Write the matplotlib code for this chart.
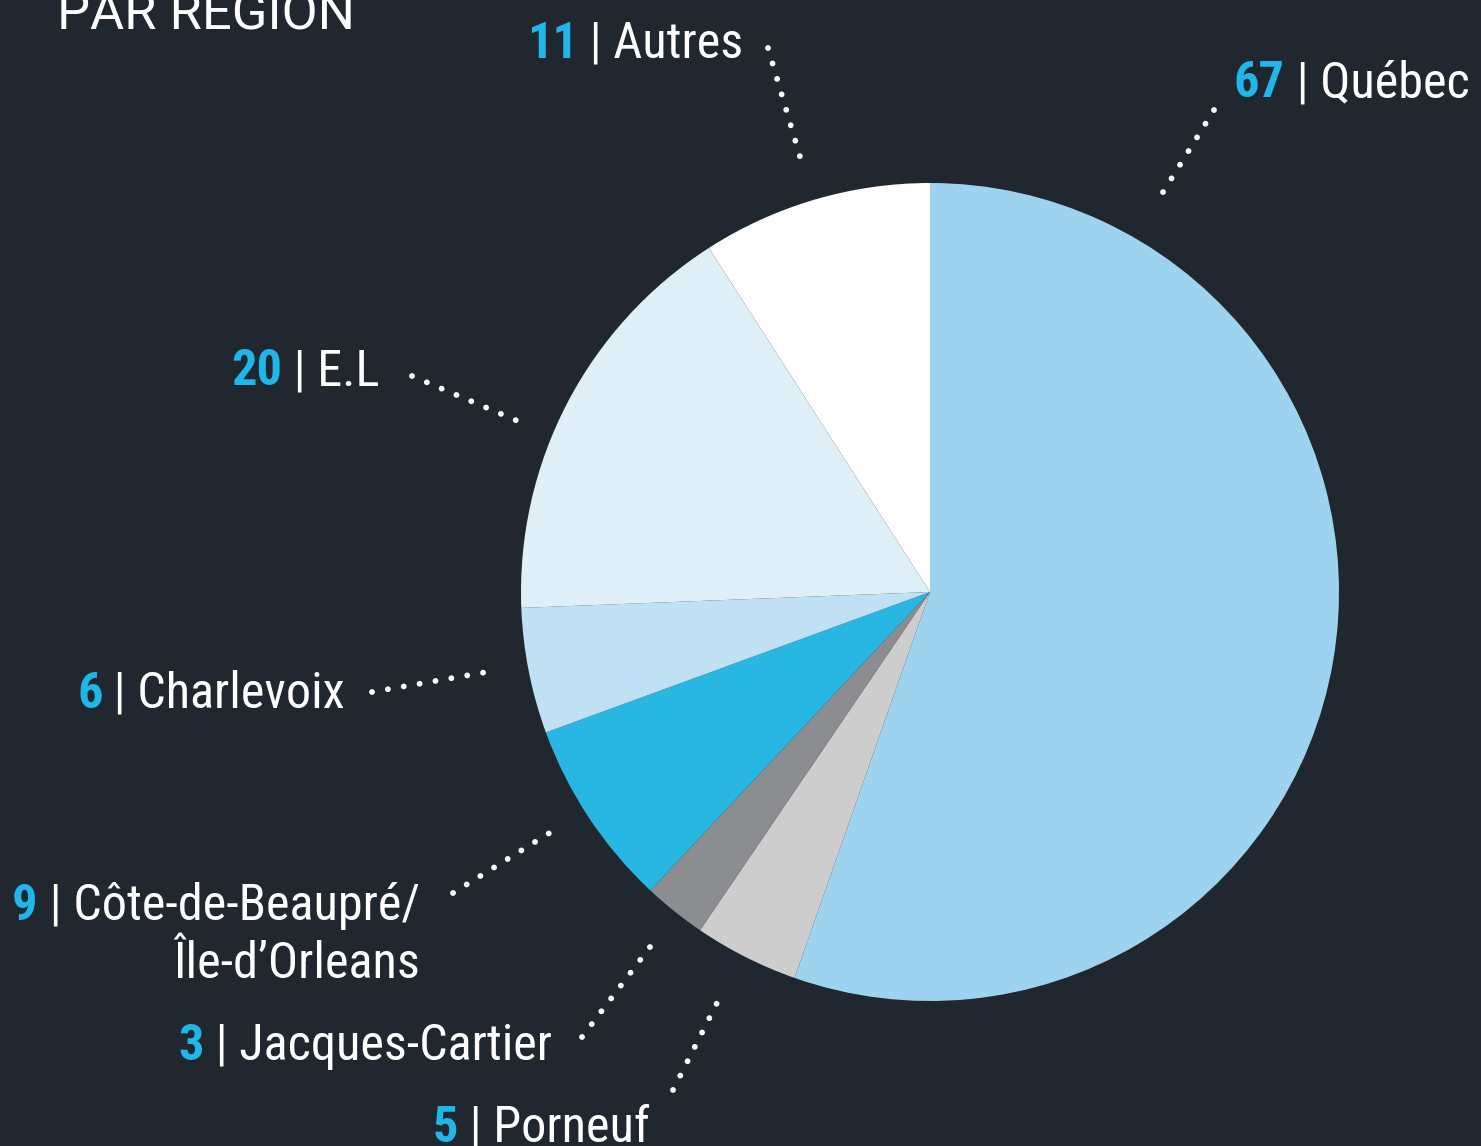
import matplotlib
matplotlib.use("Agg")
import matplotlib.pyplot as plt
from matplotlib import font_manager
from matplotlib.font_manager import FontProperties

# data (clockwise from 12 o'clock)
regions = ["Québec", "Porneuf", "Jacques-Cartier", "Côte-de-Beaupré/\nÎle-d’Orleans",
           "Charlevoix", "E.L", "Autres"]
counts = [67, 5, 3, 9, 6, 20, 11]
colors = ["#9dd3ee", "#cdcdce", "#8b8d91", "#28b7e3", "#c0e1f4", "#dfeff8", "#fdfdfd"]

BG = "#20272f"
BLUE = "#1fb6ea"
W, H = 1481, 1146

# label layout in pixel coords: (text left, baseline), leader outer end, leader inner end
label_pos = [(1234, 97), (433, 1142), (178, 1060), (12, 920), (77, 708), (231, 385), (527, 58)]
leaders = [((1214, 110), (1160, 197)),
           ((673, 1090), (721, 995)),
           ((582, 1037), (653, 943)),
           ((453, 893), (551, 832)),
           ((372, 692), (487, 672)),
           ((412, 376), (520, 422)),
           ((768, 48), (801, 160))]


def pick_font(bold):
    # look for a narrow / condensed sans among installed fonts
    cands = []
    for f in font_manager.fontManager.ttflist:
        nm = (f.name + " " + f.fname).lower()
        narrow = ("narrow" in nm or "condensed" in nm or
                  str(f.stretch) in ("condensed", "semi-condensed", "extra-condensed", "600", "700"))
        if not narrow or "mono" in nm or "serif" in nm.replace("sans", ""):
            continue
        w = f.weight if isinstance(f.weight, int) else {"bold": 700, "normal": 400, "regular": 400}.get(str(f.weight), 400)
        is_bold = w >= 600
        if is_bold != bold or f.style != "normal":
            continue
        rank = 0 if "liberation" in nm else 1 if "roboto" in nm else 2 if "dejavu" in nm else 3
        cands.append((rank, f.fname))
    if cands:
        return FontProperties(fname=sorted(cands)[0][1])
    return FontProperties(family="Liberation Sans", weight="bold" if bold else "normal")


fp_reg = pick_font(False)
fp_bold = pick_font(True)
fp_title = FontProperties(family=["Roboto", "DejaVu Sans"])

fig = plt.figure(figsize=(W / 100, H / 100), dpi=100, facecolor=BG)
ax = fig.add_axes([0, 0, 1, 1])
ax.set_facecolor(BG)


def px(x, y):
    return x, H - y


ax.pie(counts, colors=colors, startangle=90, counterclock=False,
       center=px(930, 592), radius=409, frame=True,
       wedgeprops=dict(linewidth=0, antialiased=True))
ax.set_xlim(0, W)
ax.set_ylim(0, H)
ax.set_aspect("equal")
ax.axis("off")

for (a, b) in leaders:
    xa, ya = px(*a)
    xb, yb = px(*b)
    ax.plot([xa, xb], [ya, yb], color="white", lw=4.2,
            linestyle=(0, (0.01, 2.75)), dash_capstyle="round")

# size the text so "6 | Charlevoix" spans about 268 px like the reference
fs = 39
r = fig.canvas.get_renderer()
probe1 = ax.text(0, 0, "6", fontproperties=fp_bold, fontsize=fs)
probe2 = ax.text(0, 0, " | Charlevoix", fontproperties=fp_reg, fontsize=fs)
probe3 = ax.text(0, 0, "PAR REGION", fontproperties=fp_title, fontsize=fs)
wid = probe1.get_window_extent(r).width + probe2.get_window_extent(r).width
tfs = fs * 298 / probe3.get_window_extent(r).width
for p in (probe1, probe2, probe3):
    p.remove()
fs = min(39, fs * 268 / wid)

ax.text(*px(57, 30), "PAR REGION", color="white", fontproperties=fp_title,
        fontsize=tfs, va="baseline")

nums = []
for n, pos in zip(counts, label_pos):
    t = ax.text(*px(*pos), str(n), color=BLUE, fontproperties=fp_bold,
                fontsize=fs, va="baseline")
    nums.append(t)

fig.canvas.draw()
for t, name, pos in zip(nums, regions, label_pos):
    bb = t.get_window_extent(renderer=r)
    lines = name.split("\n")
    t2 = ax.text(bb.x1, H - pos[1], " | " + lines[0], color="white", fontproperties=fp_reg,
                 fontsize=fs, va="baseline", ha="left")
    if len(lines) > 1:
        bb2 = t2.get_window_extent(renderer=r)
        ax.text(bb2.x1, H - pos[1] - 58, lines[1], color="white", fontproperties=fp_reg,
                fontsize=fs, va="baseline", ha="right")

fig.savefig("out.png", dpi=100, facecolor=BG)
